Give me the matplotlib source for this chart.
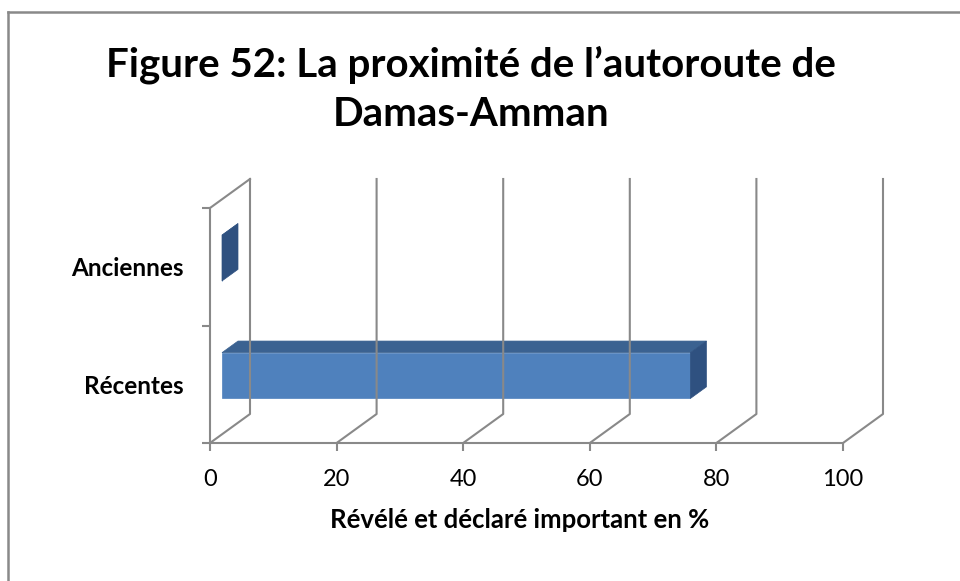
import matplotlib.pyplot as plt
from matplotlib.patches import Polygon

# Valeurs du graphique
categories = ["Récentes", "Anciennes"]
values = [74, 0]
xticks = [0, 20, 40, 60, 80, 100]
title = "Figure 52: La proximité de l’autoroute de\nDamas-Amman"
xlabel = "Révélé et déclaré important en %"

plt.rcParams['font.family'] = ['Lato', 'DejaVu Sans']

W, H = 960, 581
PX_VAL = 6.33     # pixels per percent
PX_CAT = 117.5    # pixels per category slot
DX, DY = 40 / PX_VAL, 29 / PX_CAT   # depth offset of the back wall
BAR_H = 0.39
D0, D1 = 0.3, 0.7  # depth range of the bars

GRID = '#898989'
FRONT = '#4f81bd'
TOP = '#3b6291'
SIDE = '#2f5180'

fig = plt.figure(figsize=(W / 100, H / 100), dpi=100)

# chart border
fig.add_artist(plt.Line2D([8 / W, 8 / W], [0, 1 - 12 / H], color=GRID, lw=1.8))
fig.add_artist(plt.Line2D([8 / W, 1], [1 - 12 / H, 1 - 12 / H], color=GRID, lw=1.8))

xmax = 100 + DX
ymax = len(categories) + DY
left, bottom = 210, H - 443
axw, axh = xmax * PX_VAL, ymax * PX_CAT
ax = fig.add_axes([left / W, bottom / H, axw / W, axh / H])
ax.set_xlim(0, xmax)
ax.set_ylim(0, ymax)
ax.patch.set_visible(False)
for s in ['top', 'right']:
    ax.spines[s].set_visible(False)
for s in ['left', 'bottom']:
    ax.spines[s].set_color(GRID)
    ax.spines[s].set_linewidth(1.5)
ax.spines['bottom'].set_bounds(0, 100)
ax.spines['left'].set_bounds(0, len(categories))

ax.set_xticks(xticks)
ax.set_xticklabels([str(t) for t in xticks], fontsize=17)
ax.tick_params(axis='x', length=6, width=1.5, color=GRID, pad=13)
ax.set_yticks(range(len(categories) + 1))
ax.set_yticklabels([])
ax.tick_params(axis='y', length=6, width=1.5, color=GRID)
ax.set_yticks([i + 0.5 for i in range(len(categories))], minor=True)
ax.set_yticklabels(categories, minor=True, fontsize=17.5, fontweight='bold')
ax.tick_params(axis='y', which='minor', length=0, pad=19)
ax.set_xlabel(xlabel, fontsize=18.5, fontweight='bold')
ax.xaxis.set_label_coords((520 - left) / axw, -(508 - 443) / axh)

# back wall gridlines and floor diagonals
for t in xticks:
    ax.plot([t, t + DX, t + DX], [0, DY, len(categories) + DY],
            color=GRID, lw=1.5, clip_on=False)
ax.plot([0, DX], [len(categories), len(categories) + DY], color=GRID, lw=1.5, clip_on=False)

# 3D bars
for i, v in enumerate(values):
    yc = i + 0.5
    y0, y1 = yc - BAR_H / 2, yc + BAR_H / 2
    fx0, fy0 = D0 * DX, D0 * DY
    fx1, fy1 = D1 * DX, D1 * DY
    front = [(fx0, y0 + fy0), (v + fx0, y0 + fy0), (v + fx0, y1 + fy0), (fx0, y1 + fy0)]
    top = [(fx0, y1 + fy0), (v + fx0, y1 + fy0), (v + fx1, y1 + fy1), (fx1, y1 + fy1)]
    side = [(v + fx0, y0 + fy0), (v + fx1, y0 + fy1), (v + fx1, y1 + fy1), (v + fx0, y1 + fy0)]
    for pts, c in [(front, FRONT), (top, TOP), (side, SIDE)]:
        ax.add_patch(Polygon(pts, closed=True, facecolor=c, edgecolor=c, lw=0.5, clip_on=False))

# title, one line per baseline
for k, line in enumerate(title.split('\n')):
    fig.text(471 / W, 1 - (76 + 50 * k) / H, line, ha='center', va='baseline',
             fontsize=29, fontweight='bold')

fig.savefig('out.png', dpi=100)
